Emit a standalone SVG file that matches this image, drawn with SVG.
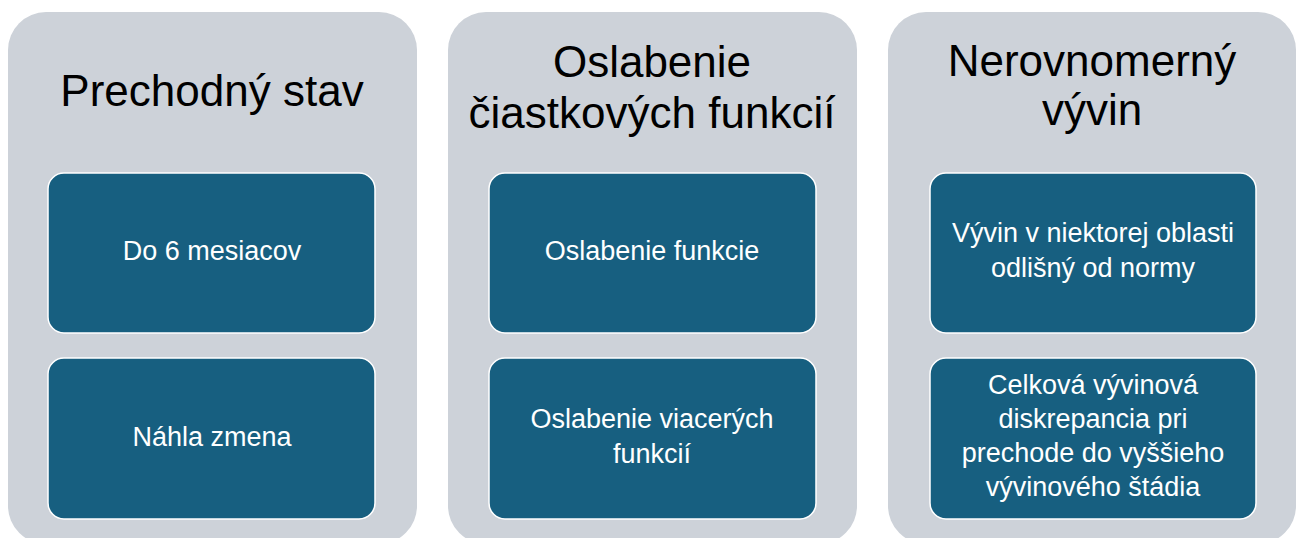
<svg xmlns="http://www.w3.org/2000/svg" width="1297" height="538" viewBox="0 0 1297 538">
<style>
.panel{fill:#CDD2D9;}
.box{fill:#175F80;stroke:#FFFFFF;stroke-width:1.5;}
.h{font-family:"Liberation Sans",Arial,sans-serif;font-size:44px;fill:#000000;text-anchor:middle;}
.t{font-family:"Liberation Sans",Arial,sans-serif;font-size:27px;fill:#FFFFFF;text-anchor:middle;}
</style>
<rect width="1297" height="538" fill="#FFFFFF"/>
<g id="panel1">
<rect class="panel" x="8" y="12" width="409" height="532" rx="38" ry="38"/>
<text class="h" x="212" y="106">Prechodný stav</text>
</g>
<g id="panel2">
<rect class="panel" x="448" y="12" width="409" height="532" rx="38" ry="38"/>
<text class="h" x="652" y="77">Oslabenie</text>
<text class="h" x="652" y="128">čiastkových funkcií</text>
</g>
<g id="panel3">
<rect class="panel" x="888" y="12" width="408" height="532" rx="38" ry="38"/>
<text class="h" x="1092" y="76">Nerovnomerný</text>
<text class="h" x="1092" y="125">vývin</text>
</g>
<g id="box1a">
<rect class="box" x="48" y="173" width="327" height="160" rx="16" ry="16"/>
<text class="t" x="212" y="260">Do 6 mesiacov</text>
</g>
<g id="box1b">
<rect class="box" x="48" y="358" width="327" height="161" rx="16" ry="16"/>
<text class="t" x="212" y="446">Náhla zmena</text>
</g>
<g id="box2a">
<rect class="box" x="489" y="173" width="327" height="160" rx="16" ry="16"/>
<text class="t" x="652" y="260">Oslabenie funkcie</text>
</g>
<g id="box2b">
<rect class="box" x="489" y="358" width="327" height="161" rx="16" ry="16"/>
<text class="t" x="652" y="428">Oslabenie viacerých</text>
<text class="t" x="652" y="463">funkcií</text>
</g>
<g id="box3a">
<rect class="box" x="930" y="173" width="326" height="160" rx="16" ry="16"/>
<text class="t" x="1093" y="242">Vývin v niektorej oblasti</text>
<text class="t" x="1093" y="277">odlišný od normy</text>
</g>
<g id="box3b">
<rect class="box" x="930" y="358" width="326" height="161" rx="16" ry="16"/>
<text class="t" x="1093" y="394">Celková vývinová</text>
<text class="t" x="1093" y="428">diskrepancia pri</text>
<text class="t" x="1093" y="462">prechode do vyššieho</text>
<text class="t" x="1093" y="496">vývinového štádia</text>
</g>
<g id="connectors"></g>
</svg>
